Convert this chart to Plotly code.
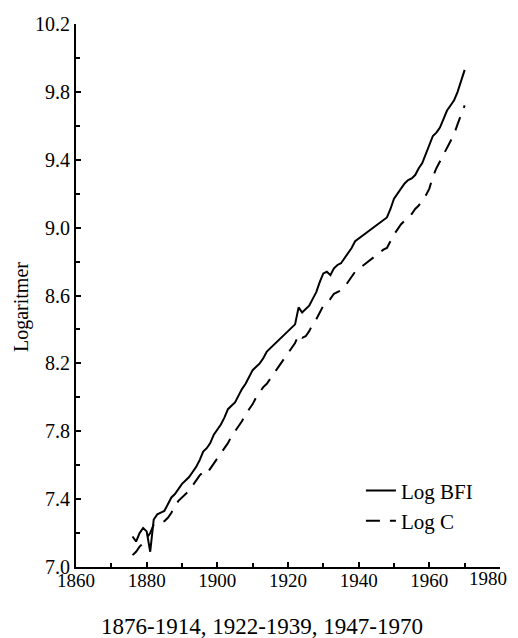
import plotly.graph_objects as go

years = list(range(1876, 1915)) + list(range(1922, 1940)) + list(range(1947, 1971))

log_bfi = [7.18, 7.15, 7.20, 7.23, 7.21, 7.09, 7.28, 7.31, 7.32, 7.33,
           7.37, 7.41, 7.43, 7.46, 7.49, 7.51, 7.53, 7.56, 7.59, 7.63,
           7.68, 7.70, 7.73, 7.78, 7.81, 7.84, 7.88, 7.93, 7.95, 7.97,
           8.01, 8.05, 8.08, 8.12, 8.16, 8.18, 8.20, 8.23, 8.27,
           8.43, 8.53, 8.50, 8.52, 8.54, 8.58, 8.62, 8.68, 8.73, 8.74,
           8.72, 8.76, 8.78, 8.79, 8.82, 8.85, 8.88, 8.92,
           9.04, 9.06, 9.11, 9.17, 9.20, 9.23, 9.26, 9.28, 9.29, 9.31,
           9.35, 9.38, 9.43, 9.48, 9.54, 9.56, 9.59, 9.64, 9.69, 9.72,
           9.75, 9.80, 9.86, 9.93]

log_c = [7.07, 7.09, 7.12, 7.14, 7.17, 7.20, 7.25, 7.26, 7.27, 7.27,
         7.29, 7.32, 7.36, 7.39, 7.41, 7.43, 7.45, 7.48, 7.51, 7.54,
         7.56, 7.55, 7.58, 7.61, 7.64, 7.67, 7.70, 7.73, 7.77, 7.80,
         7.83, 7.86, 7.90, 7.93, 7.96, 8.00, 8.03, 8.06, 8.08,
         8.32, 8.37, 8.35, 8.36, 8.39, 8.43, 8.46, 8.50, 8.54, 8.56,
         8.58, 8.61, 8.62, 8.63, 8.65, 8.68, 8.71, 8.74,
         8.87, 8.88, 8.92, 8.96, 8.99, 9.02, 9.04, 9.06, 9.08, 9.11,
         9.13, 9.16, 9.19, 9.23, 9.30, 9.35, 9.39, 9.43, 9.47, 9.51,
         9.55, 9.61, 9.66, 9.72]

x_ticks = [1860, 1880, 1900, 1920, 1940, 1960, 1980]
x_ticktext = ["1860", "1880", "1900", "1920", "1940", "1960", ""]
last_x_label = "1980"
y_ticks = [7.0, 7.4, 7.8, 8.2, 8.6, 9.0, 9.4, 9.8, 10.2]

FONT = "Liberation Serif, Times New Roman, serif"

fig = go.Figure()
fig.add_trace(go.Scatter(x=years, y=log_bfi, mode="lines", name="Log BFI",
                         line=dict(color="black", width=2)))
fig.add_trace(go.Scatter(x=years, y=log_c, mode="lines", name="Log C",
                         line=dict(color="black", width=2, dash="14px,10px")))

fig.update_layout(
    width=510, height=630,
    margin=dict(l=68, r=18, t=16, b=71),
    paper_bgcolor="white", plot_bgcolor="white",
    font=dict(family=FONT, color="black", size=19),
    showlegend=True,
    legend=dict(x=0.672, y=0.178, xanchor="left", yanchor="top",
                bgcolor="rgba(0,0,0,0)", font=dict(size=21, family=FONT),
                itemwidth=30, tracegroupgap=0),
    xaxis=dict(range=[1860, 1980], tickvals=x_ticks, ticktext=x_ticktext,
               ticks="inside", ticklen=5,
               tickwidth=1.5, tickcolor="black", automargin=False,
               showline=True, linecolor="black", linewidth=2,
               showgrid=False, zeroline=False, ticklabeloverflow="allow",
               ticklabelstandoff=-5,
               minor=dict(dtick=10, tick0=1860, ticks="inside", ticklen=4, tickcolor="black"),
               tickfont=dict(size=19, family=FONT)),
    yaxis=dict(range=[7.0, 10.2], tickvals=y_ticks, tickformat=".1f",
               ticks="inside", ticklen=5, tickwidth=1.5, tickcolor="black",
               automargin=False,
               showline=True, linecolor="black", linewidth=2,
               showgrid=False, zeroline=False,
               minor=dict(dtick=0.2, tick0=7.0, ticks="inside", ticklen=4, tickcolor="black"),
               tickfont=dict(size=20, family=FONT)),
    annotations=[
        dict(text="Logaritmer", textangle=-90, xref="paper", yref="paper",
             x=(21 - 76) / 424, y=(567 - 307) / 543, showarrow=False,
             xanchor="center", yanchor="middle", font=dict(size=20, family=FONT)),
        dict(text="1876-1914, 1922-1939, 1947-1970", xref="paper", yref="paper",
             x=(262 - 76) / 424, y=(567 - 626) / 543, showarrow=False,
             xanchor="center", yanchor="middle", font=dict(size=23, family=FONT)),
        dict(text=last_x_label, xref="x", yref="paper", x=x_ticks[-1],
             y=(567 - 578) / 543, showarrow=False, xanchor="right", xshift=9,
             yanchor="middle", font=dict(size=19, family=FONT)),
    ],
)

fig.write_html("out.html")
